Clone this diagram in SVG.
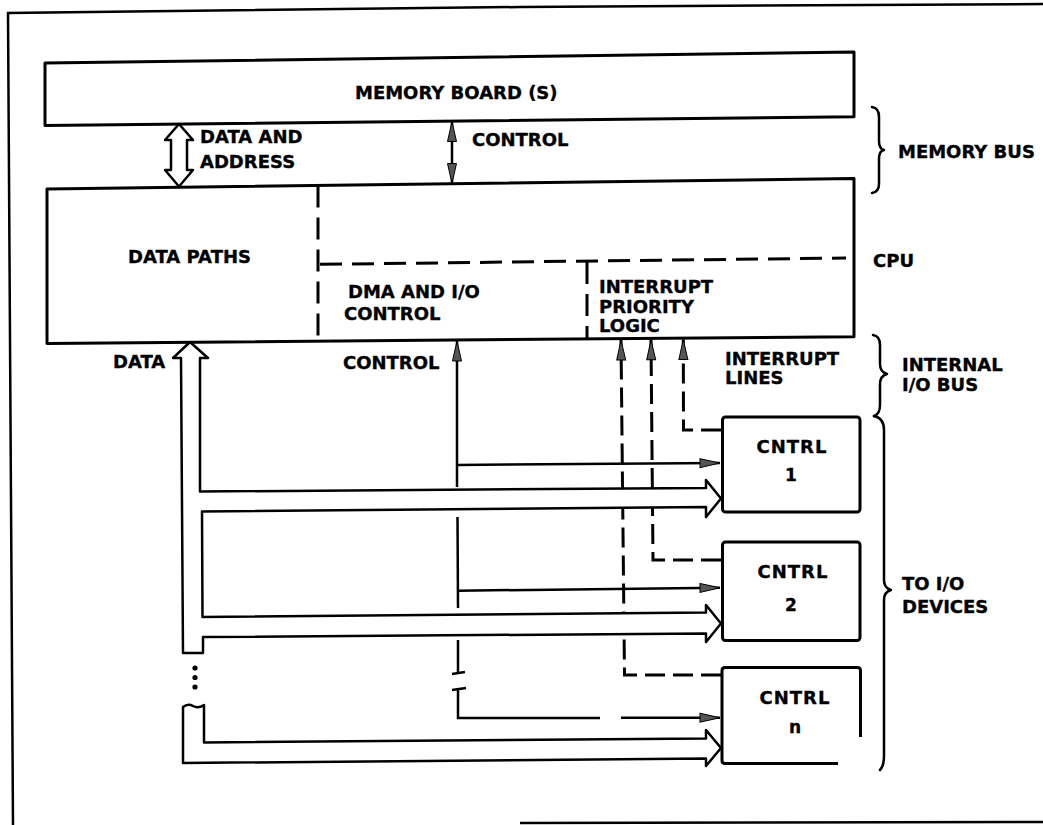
<svg xmlns="http://www.w3.org/2000/svg" width="1043" height="825" viewBox="0 0 1043 825">
<style>
.t{font-family:"DejaVu Sans","Liberation Sans",sans-serif;font-weight:bold;font-size:18px;fill:#000;stroke:#000;stroke-width:0.35}
.s{font-size:17px}
.m{text-anchor:middle}
.box{fill:none;stroke:#000;stroke-width:3;stroke-linejoin:round}
.ln{fill:none;stroke:#000;stroke-width:2.5}
.dash{fill:none;stroke:#000;stroke-width:3;stroke-dasharray:22 10}
.idash{fill:none;stroke:#000;stroke-width:3;stroke-dasharray:20 8}
.bus{fill:#fff;stroke:#000;stroke-width:2.5;stroke-linejoin:round}
.brace{fill:none;stroke:#000;stroke-width:2.5;stroke-linecap:round;stroke-linejoin:round}
.frame{fill:none;stroke:#000;stroke-width:2.5}
</style>
<defs>
<marker id="ah" viewBox="0 0 20 10" refX="20" refY="5" markerWidth="20" markerHeight="10" markerUnits="userSpaceOnUse" orient="auto-start-reverse" overflow="visible">
<path d="M0,0.5 L20,5 L0,9.5 Z" fill="#555" stroke="#000" stroke-width="1"/>
</marker>
</defs>
<rect width="1043" height="825" fill="#fff"/>
<g id="frame">
<polyline class="frame" points="1043,4 520,7 8,13 13,825"/>
<line class="frame" x1="520" y1="823" x2="1043" y2="822"/>
</g>
<g id="connectors">
<polygon class="bus" points="179,124 193,140 187,140 187,170 193,170 179,186.5 165,170 171,170 171,140 165,140"/>
<path class="ln" d="M452,121.5 L452,183.5" marker-start="url(#ah)" marker-end="url(#ah)"/>
<path class="idash" d="M721,430 L683.5,430 L683.3,339.5" marker-end="url(#ah)"/>
<path class="idash" d="M721,560 L653,560 L651,339.8" marker-end="url(#ah)"/>
<path class="idash" d="M721,675 L624.5,675 L621,340" marker-end="url(#ah)"/>
<path class="bus" d="M190,342 L208,358 L200,358 L200,491.5 L706,488 L706,480 L721,498.5 L706,517 L706,507 L202,511.5 L202.5,617 L706,612.5 L706,605 L721,623.5 L706,642 L706,633.5 L203,637 L203,653 L183,653 L181,358 L173,358 Z"/>
<path class="bus" d="M183,707 Q188,703 193,706 Q198,709 204,705 L204,742.5 L706,738.5 L706,730 L721,748 L706,766 L706,758.5 L183,763 Z"/>
<circle cx="195" cy="668" r="2.6"/>
<circle cx="195" cy="677.5" r="2.6"/>
<circle cx="195" cy="687" r="2.6"/>
<path class="ln" d="M457,487 L457,341" marker-end="url(#ah)"/>
<path class="ln" d="M457,465 L720,463" marker-end="url(#ah)"/>
<path class="ln" d="M457.5,517 L458,608"/>
<path class="ln" d="M458,590.7 L720,587.7" marker-end="url(#ah)"/>
<path class="ln" d="M458,640 L458,673 M452,674 L465,672"/>
<path class="ln" d="M452,690 L466,688 M458,689 L458,718 L600,718"/>
<path class="ln" d="M621,717.8 L720,717.7" marker-end="url(#ah)"/>
</g>
<g id="memory-board">
<path class="box" d="M45,63 L854,52 L854,116.7 L45,125.5 Z"/>
<text class="t" x="355" y="99">MEMORY BOARD (S)</text>
</g>
<g id="cpu">
<path class="box" d="M47,189 L854,178.5 L854,336.7 L47,343.5 Z"/>
<path class="dash" d="M318,185.5 L318,341.2"/>
<path class="dash" d="M320,264.3 L846,258"/>
<path class="dash" d="M587,262 L587,339"/>
<text class="t" x="128" y="263">DATA PATHS</text>
<text class="t" x="348" y="298">DMA AND I/O</text>
<text class="t" x="344" y="320">CONTROL</text>
<text class="t" x="599" y="293">INTERRUPT</text>
<text class="t" x="599" y="312.5">PRIORITY</text>
<text class="t" x="599" y="332">LOGIC</text>
<text class="t" x="873" y="267">CPU</text>
</g>
<g id="cntrl-1">
<rect class="box" x="722.5" y="417" width="137.5" height="95" rx="3"/>
<text class="t m" x="792" y="453" letter-spacing="1">CNTRL</text>
<text class="t s m" x="791" y="481">1</text>
</g>
<g id="cntrl-2">
<rect class="box" x="722.5" y="542" width="137.5" height="98.5" rx="3"/>
<text class="t m" x="793" y="578" letter-spacing="1">CNTRL</text>
<text class="t s m" x="791" y="611">2</text>
</g>
<g id="cntrl-n">
<path class="box" d="M838,763.5 L725,763.5 Q722,763.5 722,760.5 L722,670.5 Q722,667.5 725,667.5 L857.5,667.5 Q860.5,667.5 860.5,670.5 L860.5,737"/>
<text class="t m" x="795" y="704" letter-spacing="1">CNTRL</text>
<text class="t s m" x="795" y="733">n</text>
</g>
<g id="labels">
<text class="t" x="200" y="143">DATA AND</text>
<text class="t" x="200" y="168">ADDRESS</text>
<text class="t" x="472" y="146">CONTROL</text>
<text class="t" x="113" y="368">DATA</text>
<text class="t" x="343" y="369">CONTROL</text>
<text class="t" x="725" y="365">INTERRUPT</text>
<text class="t" x="725" y="384">LINES</text>
</g>
<g id="memory-bus">
<path class="brace" d="M872,107 Q879,108 879,117 L879,141 Q879,149 884,150 Q879,151 879,159 L879,184 Q879,192 872,193"/>
<text class="t" x="898" y="158">MEMORY BUS</text>
</g>
<g id="internal-io-bus">
<path class="brace" d="M873,335 Q880,336 880,345 L880,364 Q880,372 887,374 Q880,376 880,384 L880,405 Q880,414 874,416"/>
<text class="t" x="902" y="371">INTERNAL</text>
<text class="t" x="902" y="391">I/O BUS</text>
</g>
<g id="to-io-devices">
<path class="brace" d="M874,416 Q884,418 884,430 L884,580 Q884,588 891,590 Q884,592 884,600 L884,756 Q884,766 880,770"/>
<text class="t" x="902" y="590">TO I/O</text>
<text class="t" x="902" y="613">DEVICES</text>
</g>
</svg>
